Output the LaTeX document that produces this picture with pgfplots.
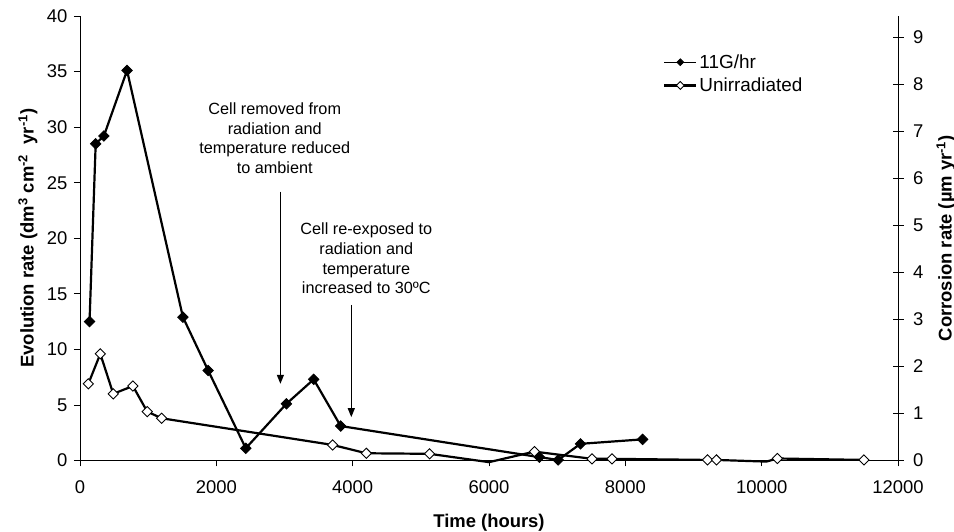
\documentclass[border=0pt]{standalone}
\usepackage{pgfplots}
\pgfplotsset{compat=1.18}
\usepackage{fontspec}
\setmainfont{Liberation Sans}
\usetikzlibrary{arrows.meta}

\pgfplotstableread{
x y
140 12.5
230 28.5
350 29.2
690 35.1
1510 12.9
1880 8.1
2432 1.1
3028 5.1
3428 7.3
3824 3.1
6740 0.3
7015 0.05
7342 1.5
8253 1.9
}\irrad

\pgfplotstableread{
x y
122 6.9
298 9.6
488 6.0
776 6.7
986 4.4
1197 3.8
3706 1.4
4200 0.65
5128 0.6
6000 -0.15
6666 0.8
7511 0.15
7804 0.15
9205 0.05
9337 0.05
10069 -0.1
10230 0.18
11500 0.05
}\unirrad

\begin{document}
\begin{tikzpicture}
\pgfplotsset{
  every axis/.append style={
    scale only axis, width=818bp, height=444.5bp,
    xmin=0, xmax=12000,
    /pgf/number format/assume math mode=true,
    /pgf/number format/1000 sep={},
    scaled ticks=false,
    tick style={black, line width=0.8bp},
    ticklabel style={font=\fontsize{18.5}{22}\selectfont},
    label style={font=\bfseries\fontsize{18.5}{22}\selectfont},
  },
}
\begin{axis}[
  name=main,
  axis x line=bottom, axis y line=left,
  axis line style={-, black, line width=0.8bp},
  ymin=0, ymax=40,
  xtick={0,2000,...,12000}, ytick={0,5,...,40},
  tick align=outside, major tick length=6bp,
  xticklabel style={yshift=-11bp},
  yticklabel style={xshift=-3bp},
  clip=false,
  xlabel={Time (hours)},
  xlabel style={at={(axis description cs:0.5,-0.139)}, anchor=center},
  ylabel={Evolution rate (dm\textsuperscript{3} cm\textsuperscript{-2}\ \ yr\textsuperscript{-1})},
  ylabel style={at={(axis description cs:-0.0636,0.5)}, anchor=center},
  legend style={at={(axis description cs:0.7127,0.918)}, anchor=north west,
    draw=none, fill=none, inner sep=0pt, row sep=4bp,
    font=\fontsize{19}{22}\selectfont},
  legend cell align=left,
]
\addplot[black, line width=2.2bp, mark=square*, mark size=3.7bp,
  mark options={solid, fill=black, rotate=45, line width=0.8bp},
  legend image code/.code={\draw[line width=1.3bp, mark size=2.4bp, mark indices={2}]
    plot coordinates {(0bp,0bp) (16bp,0bp) (32bp,0bp)};}] table {\irrad};
\addlegendentry{11G/hr}
\addplot[black, line width=2.2bp, mark=square*, mark size=3.6bp,
  mark indices={1,2,3,4,5,6,7,8,9,11,12,13,14,15,17,18},
  mark options={solid, fill=white, rotate=45, line width=0.9bp},
  legend image code/.code={\draw[line width=2.2bp, mark size=2.8bp, mark indices={2}]
    plot coordinates {(0bp,0bp) (16bp,0bp) (32bp,0bp)};}] table {\unirrad};
\addlegendentry{Unirradiated}

\node[align=center, font=\fontsize{16.3}{20}\selectfont] at (axis cs:2857,29.0)
  {Cell removed from\\radiation and\\temperature reduced\\to ambient};
\draw[line width=1.2bp, -{Triangle[width=7bp,length=9bp]}] (axis cs:2940,24.2) -- (axis cs:2940,6.9);
\node[align=center, font=\fontsize{16.3}{20}\selectfont] at (axis cs:4200,18.2)
  {Cell re-exposed to\\radiation and\\temperature\\increased to 30ºC};
\draw[line width=1.2bp, -{Triangle[width=7bp,length=9bp]}] (axis cs:3980,14.0) -- (axis cs:3980,3.9);
\end{axis}

\begin{axis}[
  axis x line=none, axis y line*=right,
  axis line style={-, black, line width=0.8bp},
  ymin=0, ymax=9.45, ytick={0,1,...,9},
  tick align=center, major tick length=11bp,
  yticklabel style={xshift=6bp},
  ylabel={Corrosion rate (µm yr\textsuperscript{-1})},
  ylabel style={at={(axis description cs:1.0587,0.5)}, anchor=center},
]
\addplot[draw=none] coordinates {(0,0)};
\end{axis}

\pgfresetboundingbox
\path ([shift={(-80bp,-71.5bp)}]main.south west) rectangle ([shift={(56bp,16bp)}]main.north east);
\end{tikzpicture}
\end{document}
